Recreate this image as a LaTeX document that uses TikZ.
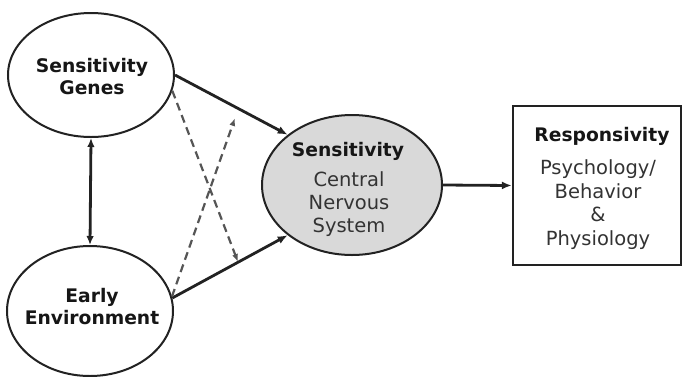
\documentclass[tikz,border=0pt]{standalone}
\usepackage{fontspec}
\setmainfont{DejaVu Sans}
\usetikzlibrary{arrows.meta,shapes.geometric}
\definecolor{txtdark}{HTML}{161616}
\definecolor{txtsoft}{HTML}{333333}
\definecolor{edgecol}{HTML}{222222}
\definecolor{dashcol}{HTML}{555555}
\definecolor{cnsfill}{HTML}{D9D9D9}
\begin{document}
\begin{tikzpicture}[x=1pt,y=-1pt,
  oval/.style={ellipse, draw=edgecol, line width=2pt, inner sep=0pt},
  respbox/.style={rectangle, draw=edgecol, line width=2.4pt, inner sep=0pt},
  solidarrow/.style={draw=edgecol, line width=2.8pt, -{Latex[length=10pt,width=8pt]}},
  dblarrow/.style={draw=edgecol, line width=2.8pt, {Latex[length=9pt,width=7.5pt]}-{Latex[length=9pt,width=7.5pt]}},
  dasharrow/.style={draw=dashcol, line width=2.2pt, dash pattern=on 8pt off 5pt, -{Latex[length=8pt,width=6pt]}},
  boldlabel/.style={align=center, font=\fontsize{18.7}{22}\selectfont\bfseries, text=txtdark},
  sublabel/.style={align=center, text=txtsoft}
]
\useasboundingbox (0,0) rectangle (683,376);
\fill[white] (0,0) rectangle (683,376);

\node[oval, minimum width=166pt, minimum height=124pt] (SG) at (91,75) {};
\node[boldlabel] (SGt) at (92,77) {Sensitivity\\Genes};
\node[oval, minimum width=166pt, minimum height=130pt] (EE) at (90,311) {};
\node[boldlabel] (EEt) at (92,307) {Early\\Environment};
\node[oval, fill=cnsfill, minimum width=180pt, minimum height=140pt] (CNS) at (352,185) {};
\node[boldlabel] (CNSt) at (348,151) {Sensitivity};
\node[sublabel, font=\fontsize{19.5}{23}\selectfont] (CNSs) at (349,204) {Central\\Nervous\\System};

\node[respbox, minimum width=168pt, minimum height=159pt] (R) at (597,185.5) {};
\node[boldlabel] (Rt) at (602,136) {Responsivity};
\node[sublabel, font=\fontsize{19.5}{23.6}\selectfont] (Rs) at (598,204.5) {Psychology/\\Behavior\\\&\\Physiology};

\coordinate (d1end) at (238,262);
\coordinate (d2end) at (235,118);

\draw[dblarrow] (SG.south) -- (EE.north);
\draw[solidarrow] (SG.east) -- (CNS.142);
\draw[solidarrow] (EE.9) -- (CNS.218);
\draw[dasharrow] (SG.-11) -- (d1end);
\draw[dasharrow] (EE.10) -- (d2end);
\draw[solidarrow] (CNS.east) -- (R.west);
\end{tikzpicture}
\end{document}
